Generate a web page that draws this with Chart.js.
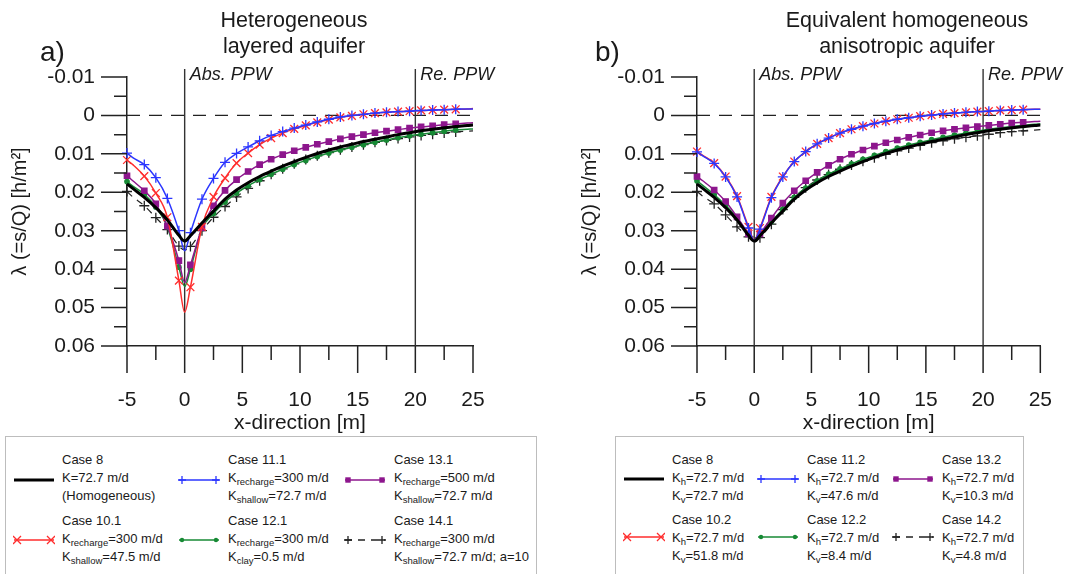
<!DOCTYPE html>
<html>
<head>
<meta charset="utf-8">
<script src="https://cdn.jsdelivr.net/npm/chart.js@4.4.1/dist/chart.umd.min.js"></script>
<style>
  body { margin: 0; background: #fff; font-family: "Liberation Sans", Arial, sans-serif; color: #1a1a1a; }
  #page { position: relative; width: 1067px; height: 574px; overflow: hidden; }
  .box { position: absolute; top: 0; }
  .lbl { position: absolute; white-space: nowrap; }
  .title { font-size: 21.5px; line-height: 26px; text-align: center; }
  .panel { font-size: 28px; line-height: 32px; }
  .legend { position: absolute; top: 436px; height: 160px; border: 1px solid #bdbdbd; box-sizing: border-box; }
  .entry { position: absolute; font-size: 13px; line-height: 18px; white-space: nowrap; }
  .entry sub { font-size: 9.5px; vertical-align: -3px; line-height: 0; }
  .sample { position: absolute; }
</style>
</head>
<body>
<div id="page">
  <div class="box" style="left:0px"><canvas id="chartA" width="545" height="436"></canvas></div>
  <div class="box" style="left:570px"><canvas id="chartB" width="497" height="436"></canvas></div>

  <div class="lbl panel" style="left:40px; top:36px">a)</div>
  <div class="lbl title" style="left:194px; top:7px; width:200px">Heterogeneous<br>layered aquifer</div>
  <div class="lbl panel" style="left:595px; top:36px">b)</div>
  <div class="lbl title" style="left:757px; top:7px; width:300px">Equivalent homogeneous<br>anisotropic aquifer</div>

  <div class="legend" style="left:5px; width:532px"></div>
  <div class="legend" style="left:615px; width:409px"></div>
  <div id="legendItems"></div>
</div>

<script>
// x positions of the computed points [m]
const xPos = [-5, -4.5, -3.5, -2.5, -1.5, -0.5, 0, 0.5, 1.5, 2.5, 3.5, 4.5, 5.5, 6.5, 7.5, 8.5, 9.5, 10.5,
  11.5, 12.5, 13.5, 14.5, 15.5, 16.5, 17.5, 18.5, 19.5, 20.5, 21.5, 22.5, 23.5, 24.5, 25];
// points drawn without a marker
const noMarkerAt = [-4.5, 0, 24.5, 25];

// lambda (=s/Q) [h/m2], same order as xPos
const case8 = [0.0178, 0.0190, 0.0213, 0.0240, 0.0272, 0.0312, 0.0327, 0.0313, 0.0280, 0.0249, 0.0218, 0.0194, 0.0175,
  0.0159, 0.0145, 0.0132, 0.0120, 0.0109, 0.0099, 0.0090, 0.0082, 0.0075, 0.0068, 0.0062, 0.0056, 0.0050, 0.0045,
  0.0040, 0.0036, 0.0032, 0.0029, 0.0026, 0.0025];

// a) heterogeneous layered aquifer
const case10_1 = [0.0116, 0.0128, 0.0158, 0.0202, 0.0265, 0.0430, 0.0512, 0.0447, 0.0290, 0.0212, 0.0163, 0.0124, 0.0098,
  0.0076, 0.0059, 0.0046, 0.0035, 0.0026, 0.0018, 0.0011, 0.0005, 0.0001, -0.0003, -0.0006, -0.0008, -0.0010, -0.0011,
  -0.0013, -0.0014, -0.0015, -0.0016, -0.0017, -0.0018];
const case11_1 = [0.0098, 0.0110, 0.0128, 0.0162, 0.0216, 0.0300, 0.0352, 0.0305, 0.0218, 0.0164, 0.0122, 0.0099, 0.0082,
  0.0066, 0.0052, 0.0042, 0.0033, 0.0025, 0.0017, 0.0010, 0.0004, 0.0000, -0.0003, -0.0006, -0.0008, -0.0010, -0.0011,
  -0.0013, -0.0014, -0.0015, -0.0016, -0.0017, -0.0017];
const case12_1 = [0.0172, 0.0184, 0.0205, 0.0238, 0.0290, 0.0395, 0.0445, 0.0400, 0.0295, 0.0255, 0.0225, 0.0202, 0.0183,
  0.0167, 0.0153, 0.0140, 0.0128, 0.0117, 0.0107, 0.0098, 0.0090, 0.0083, 0.0076, 0.0070, 0.0064, 0.0058, 0.0053,
  0.0049, 0.0045, 0.0041, 0.0038, 0.0036, 0.0035];
const case13_1 = [0.0157, 0.0170, 0.0196, 0.0230, 0.0288, 0.0378, 0.0435, 0.0389, 0.0293, 0.0235, 0.0195, 0.0167, 0.0146,
  0.0128, 0.0114, 0.0102, 0.0092, 0.0083, 0.0075, 0.0068, 0.0061, 0.0055, 0.0050, 0.0045, 0.0041, 0.0037, 0.0033,
  0.0030, 0.0027, 0.0024, 0.0022, 0.0020, 0.0019];
const case14_1 = [0.0198, 0.0212, 0.0235, 0.0266, 0.0297, 0.0340, 0.0350, 0.0341, 0.0300, 0.0265, 0.0237, 0.0212, 0.0190,
  0.0170, 0.0153, 0.0139, 0.0126, 0.0115, 0.0105, 0.0097, 0.0089, 0.0082, 0.0076, 0.0070, 0.0065, 0.0060, 0.0056,
  0.0052, 0.0049, 0.0046, 0.0043, 0.0041, 0.0040];

// b) equivalent homogeneous anisotropic aquifer
const case10_2 = [0.0094, 0.0104, 0.0124, 0.0159, 0.0210, 0.0290, 0.0324, 0.0293, 0.0212, 0.0159, 0.0120, 0.0094, 0.0074,
  0.0059, 0.0046, 0.0036, 0.0028, 0.0021, 0.0015, 0.0010, 0.0006, 0.0002, -0.0001, -0.0004, -0.0006, -0.0008, -0.0010,
  -0.0011, -0.0013, -0.0014, -0.0015, -0.0016, -0.0016];
const case11_2 = [0.0095, 0.0105, 0.0125, 0.0160, 0.0212, 0.0293, 0.0325, 0.0296, 0.0214, 0.0160, 0.0120, 0.0094, 0.0074,
  0.0059, 0.0046, 0.0036, 0.0028, 0.0021, 0.0015, 0.0010, 0.0006, 0.0002, -0.0001, -0.0004, -0.0006, -0.0008, -0.0010,
  -0.0011, -0.0013, -0.0014, -0.0015, -0.0016, -0.0016];
const case12_2 = [0.0170, 0.0182, 0.0206, 0.0234, 0.0267, 0.0309, 0.0326, 0.0310, 0.0276, 0.0244, 0.0213, 0.0189, 0.0170,
  0.0153, 0.0139, 0.0126, 0.0114, 0.0104, 0.0094, 0.0085, 0.0077, 0.0070, 0.0063, 0.0057, 0.0051, 0.0046, 0.0041,
  0.0036, 0.0032, 0.0029, 0.0026, 0.0023, 0.0022];
const case13_2 = [0.0159, 0.0170, 0.0194, 0.0224, 0.0264, 0.0308, 0.0325, 0.0308, 0.0267, 0.0228, 0.0196, 0.0170, 0.0148,
  0.0130, 0.0114, 0.0101, 0.0090, 0.0080, 0.0071, 0.0064, 0.0057, 0.0051, 0.0045, 0.0040, 0.0036, 0.0032, 0.0029,
  0.0026, 0.0023, 0.0020, 0.0018, 0.0016, 0.0015];
const case14_2 = [0.0198, 0.0210, 0.0230, 0.0259, 0.0290, 0.0316, 0.0330, 0.0318, 0.0283, 0.0245, 0.0213, 0.0188, 0.0168,
  0.0154, 0.0140, 0.0129, 0.0119, 0.0110, 0.0101, 0.0092, 0.0085, 0.0078, 0.0071, 0.0066, 0.0061, 0.0057, 0.0053,
  0.0049, 0.0045, 0.0042, 0.0040, 0.0038, 0.0037];

// pumping/recharge wells
const wellX = [0, 20];
const wellNames = ['Abs. PPW', 'Re. PPW'];

// legend text, grid order: top row then bottom row
const legendTextA = [
  ['Case 8', 'K=72.7 m/d', '(Homogeneous)'],
  ['Case 11.1', 'K<sub>recharge</sub>=300 m/d', 'K<sub>shallow</sub>=72.7 m/d'],
  ['Case 13.1', 'K<sub>recharge</sub>=500 m/d', 'K<sub>shallow</sub>=72.7 m/d'],
  ['Case 10.1', 'K<sub>recharge</sub>=300 m/d', 'K<sub>shallow</sub>=47.5 m/d'],
  ['Case 12.1', 'K<sub>recharge</sub>=300 m/d', 'K<sub>clay</sub>=0.5 m/d'],
  ['Case 14.1', 'K<sub>recharge</sub>=300 m/d', 'K<sub>shallow</sub>=72.7 m/d; a=10']
];
const legendTextB = [
  ['Case 8', 'K<sub>h</sub>=72.7 m/d', 'K<sub>v</sub>=72.7 m/d'],
  ['Case 11.2', 'K<sub>h</sub>=72.7 m/d', 'K<sub>v</sub>=47.6 m/d'],
  ['Case 13.2', 'K<sub>h</sub>=72.7 m/d', 'K<sub>v</sub>=10.3 m/d'],
  ['Case 10.2', 'K<sub>h</sub>=72.7 m/d', 'K<sub>v</sub>=51.8 m/d'],
  ['Case 12.2', 'K<sub>h</sub>=72.7 m/d', 'K<sub>v</sub>=8.4 m/d'],
  ['Case 14.2', 'K<sub>h</sub>=72.7 m/d', 'K<sub>v</sub>=4.8 m/d']
];
const legendStyleOrder = ['black', 'blue', 'purple', 'red', 'green', 'dashed'];

const FONT = '"Liberation Sans", Arial, sans-serif';
const INK = '#1a1a1a';

const styles = {
  black:  { color: '#000000', width: 3,   point: null,       radius: 0,   order: 0 },
  blue:   { color: '#2b36ff', width: 1.5, point: 'cross',    radius: 5,   order: 1 },
  red:    { color: '#ff2d2d', width: 1.5, point: 'crossRot', radius: 5.5, order: 2 },
  purple: { color: '#8d168d', width: 1.5, point: 'rect',     radius: 3.8, order: 3 },
  green:  { color: '#178a35', width: 1.5, point: 'circle',   radius: 2.2, order: 4 },
  dashed: { color: '#222222', width: 1.2, point: 'cross',    radius: 5,   order: 5, dash: [7, 6] }
};

function makeDataset(label, values, styleName) {
  const st = styles[styleName];
  return {
    label: label,
    data: xPos.map((x, i) => ({ x: x, y: values[i] })),
    borderColor: st.color,
    backgroundColor: st.color,
    borderWidth: st.width,
    borderDash: st.dash || [],
    pointStyle: st.point || 'circle',
    pointRadius: ctx => (st.point && !noMarkerAt.includes(xPos[ctx.dataIndex])) ? st.radius : 0,
    pointBorderWidth: 1.3,
    pointBackgroundColor: st.color,
    pointBorderColor: st.color,
    pointHoverRadius: 0,
    cubicInterpolationMode: 'monotone',
    fill: false,
    clip: false,
    order: st.order
  };
}

// dashed zero line, well lines and labels, tick marks
const axisDecor = {
  id: 'axisDecor',
  beforeDatasetsDraw(chart) {
    const { ctx, chartArea, scales } = chart;
    const x = scales.x, y = scales.y;
    ctx.save();
    const y0 = y.getPixelForValue(0);
    ctx.strokeStyle = '#222';
    ctx.lineWidth = 1.3;
    ctx.setLineDash([13, 9]);
    ctx.beginPath();
    ctx.moveTo(chartArea.left, y0);
    ctx.lineTo(chartArea.right, y0);
    ctx.stroke();
    ctx.setLineDash([]);
    wellX.forEach((w, i) => {
      const px = x.getPixelForValue(w);
      ctx.strokeStyle = '#333';
      ctx.lineWidth = 1.4;
      ctx.beginPath();
      ctx.moveTo(px, chartArea.top - 8);
      ctx.lineTo(px, chartArea.bottom);
      ctx.stroke();
      ctx.fillStyle = INK;
      ctx.font = 'italic 18px ' + FONT;
      ctx.textBaseline = 'middle';
      ctx.fillText(wellNames[i], px + 5, chartArea.top - 2);
    });
    ctx.restore();
  },
  afterDraw(chart) {
    const { ctx, chartArea, scales } = chart;
    const x = scales.x, y = scales.y;
    ctx.save();
    ctx.strokeStyle = '#222';
    ctx.lineWidth = 1.5;
    ctx.beginPath();
    const yv = y.ticks.map(t => t.value);
    yv.forEach((v, i) => {
      const py = y.getPixelForValue(v);
      ctx.moveTo(chartArea.left - 26, py);
      ctx.lineTo(chartArea.left, py);
      if (i < yv.length - 1) {
        const pm = y.getPixelForValue((v + yv[i + 1]) / 2);
        ctx.moveTo(chartArea.left - 13, pm);
        ctx.lineTo(chartArea.left, pm);
      }
    });
    const xv = x.ticks.map(t => t.value);
    xv.forEach((v, i) => {
      const px = x.getPixelForValue(v);
      ctx.moveTo(px, chartArea.bottom);
      ctx.lineTo(px, chartArea.bottom + 27);
      if (i < xv.length - 1) {
        const pm = x.getPixelForValue((v + xv[i + 1]) / 2);
        ctx.moveTo(pm, chartArea.bottom);
        ctx.lineTo(pm, chartArea.bottom + 14);
      }
    });
    ctx.stroke();
    ctx.restore();
  }
};

function buildChart(canvasId, datasets, padRight) {
  return new Chart(document.getElementById(canvasId), {
    type: 'line',
    data: { datasets: datasets },
    options: {
      responsive: false,
      animation: false,
      layout: { padding: { top: 77, right: padRight, left: 0, bottom: 0 } },
      plugins: { legend: { display: false }, tooltip: { enabled: false } },
      scales: {
        x: {
          type: 'linear',
          min: -5, max: 25,
          afterFit: s => { s.height = 90; },
          grid: { drawOnChartArea: false, drawTicks: true, tickLength: 27, color: 'rgba(0,0,0,0)' },
          border: { display: true, color: '#222', width: 1.5 },
          ticks: { stepSize: 5, padding: 15, maxRotation: 0, autoSkip: false, color: INK, font: { family: FONT, size: 21 } },
          title: { display: true, text: 'x-direction [m]', color: INK, font: { family: FONT, size: 21 }, padding: { top: 0, bottom: 0 } }
        },
        y: {
          type: 'linear',
          reverse: true,
          min: -0.01, max: 0.06,
          afterFit: s => { s.width = 127; },
          grid: { drawOnChartArea: false, drawTicks: true, tickLength: 26, color: 'rgba(0,0,0,0)' },
          border: { display: true, color: '#222', width: 1.5 },
          ticks: {
            stepSize: 0.01, padding: 6, color: INK, font: { family: FONT, size: 21 },
            callback: v => Math.abs(v) < 1e-9 ? '0' : String(+v.toFixed(2))
          },
          title: { display: true, text: 'λ (=s/Q) [h/m²]', color: INK, font: { family: FONT, size: 20 }, padding: { top: 8, bottom: 0 } }
        }
      }
    },
    plugins: [axisDecor]
  });
}

buildChart('chartA', [
  makeDataset('Case 8', case8, 'black'),
  makeDataset('Case 11.1', case11_1, 'blue'),
  makeDataset('Case 10.1', case10_1, 'red'),
  makeDataset('Case 13.1', case13_1, 'purple'),
  makeDataset('Case 12.1', case12_1, 'green'),
  makeDataset('Case 14.1', case14_1, 'dashed')
], 72);

buildChart('chartB', [
  makeDataset('Case 8', case8, 'black'),
  makeDataset('Case 11.2', case11_2, 'blue'),
  makeDataset('Case 10.2', case10_2, 'red'),
  makeDataset('Case 13.2', case13_2, 'purple'),
  makeDataset('Case 12.2', case12_2, 'green'),
  makeDataset('Case 14.2', case14_2, 'dashed')
], 23.5);

// legend line samples
function markerSvg(st, cx) {
  const c = st.color;
  if (st.point === 'cross') return `<path d="M${cx - 4} 7H${cx + 4}M${cx} 3V11" stroke="${c}" stroke-width="1.3"/>`;
  if (st.point === 'crossRot') return `<path d="M${cx - 4} 3L${cx + 4} 11M${cx - 4} 11L${cx + 4} 3" stroke="${c}" stroke-width="1.3"/>`;
  if (st.point === 'rect') return `<rect x="${cx - 2.7}" y="4.3" width="5.4" height="5.4" fill="${c}"/>`;
  if (st.point === 'circle') return `<circle cx="${cx}" cy="7" r="2.2" fill="${c}"/>`;
  return '';
}
function sampleSvg(styleName) {
  const st = styles[styleName];
  const dash = st.dash ? ` stroke-dasharray="${st.dash.join(' ')}"` : '';
  const w = styleName === 'black' ? 3 : 1.5;
  return `<svg width="42" height="14"><path d="M1 7H41" stroke="${st.color}" stroke-width="${w}"${dash}/>` +
    markerSvg(st, 4) + markerSvg(st, 38) + '</svg>';
}

function buildLegend(texts, textX, sampleX, rowTop, sampleY) {
  let html = '';
  texts.forEach((lines, i) => {
    const col = i % 3, row = Math.floor(i / 3);
    html += `<div class="sample" style="left:${sampleX[col]}px; top:${sampleY[row] - 7}px">${sampleSvg(legendStyleOrder[i])}</div>`;
    html += `<div class="entry" style="left:${textX[col]}px; top:${rowTop[row]}px">${lines.join('<br>')}</div>`;
  });
  return html;
}

document.getElementById('legendItems').innerHTML =
  buildLegend(legendTextA, [62, 228, 394], [13, 178, 344], [451, 512], [480, 540]) +
  buildLegend(legendTextB, [672, 807, 942], [623, 757, 892], [451, 511], [479, 537]);
</script>
</body>
</html>
